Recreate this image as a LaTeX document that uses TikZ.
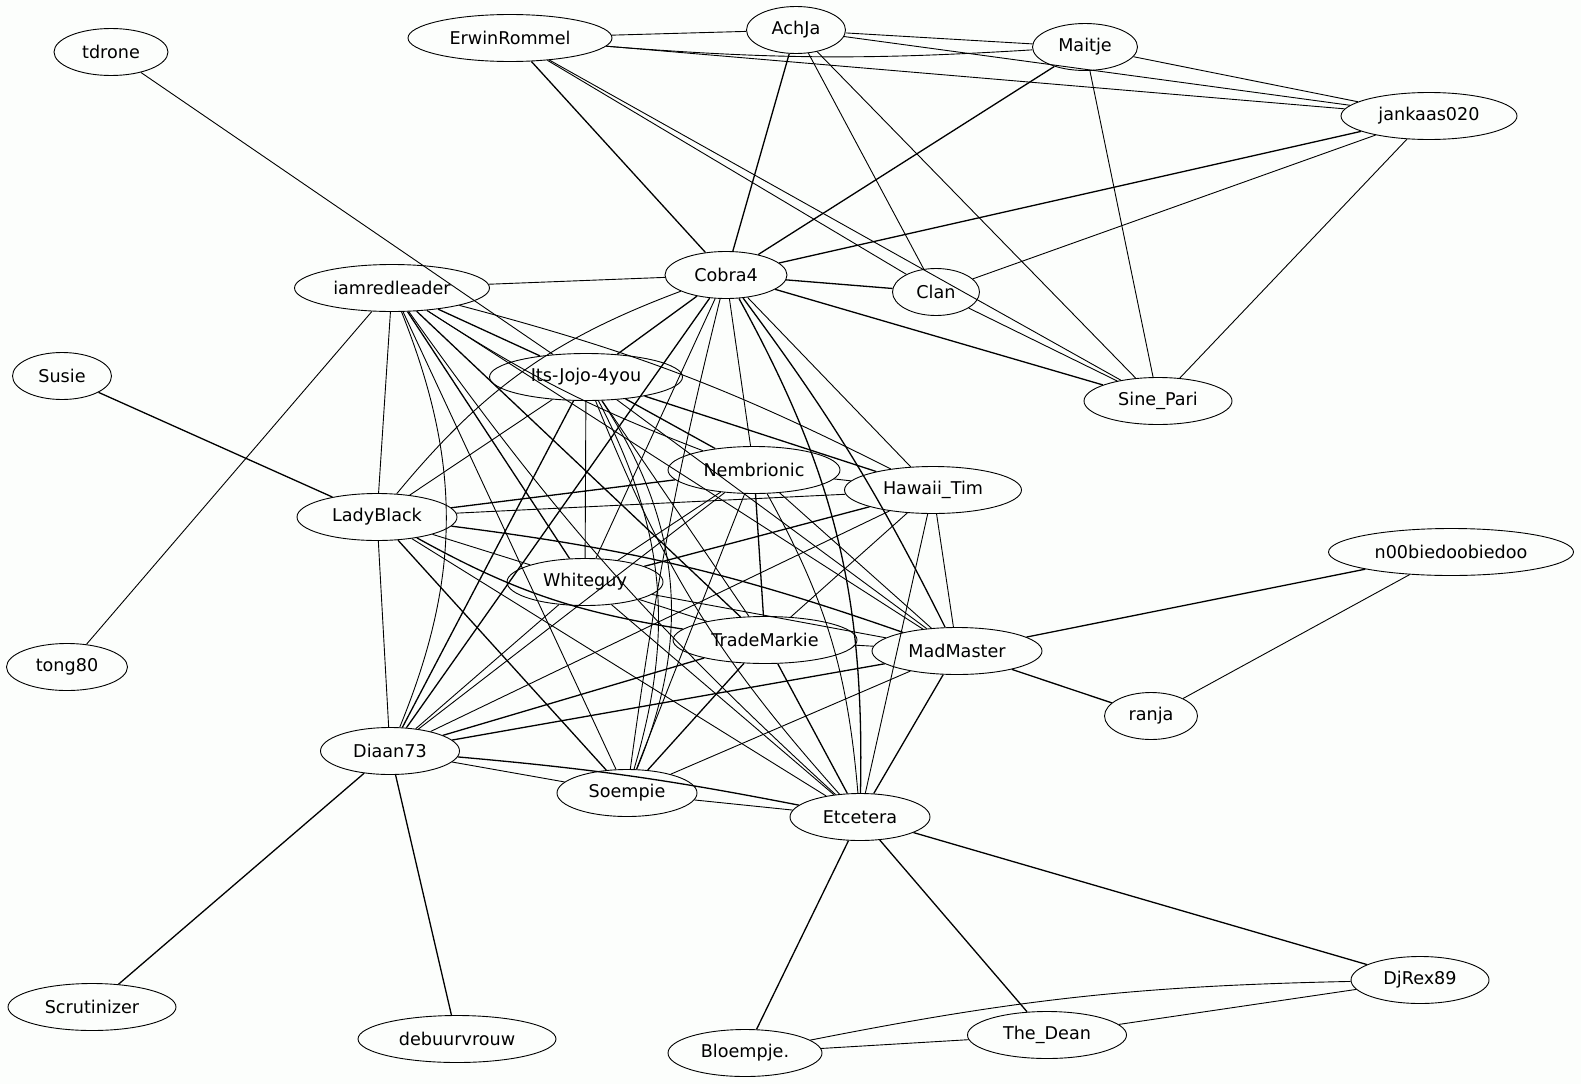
\documentclass[tikz,border=0pt]{standalone}
\usepackage{fontspec}
\setmainfont{DejaVu Sans}
\usetikzlibrary{shapes.geometric}
\definecolor{bgc}{RGB}{252,254,252}
\begin{document}
\begin{tikzpicture}[x=1pt,y=-1pt,
  nd/.style={draw,ellipse,line width=0.9pt,inner sep=0pt,minimum height=47pt,font=\fontsize{17.6}{21}\selectfont},
  ed/.style={line width=0.9pt},
  edd/.style={line width=1.3pt}]
\fill[bgc] (0,0) rectangle (1581,1084);
\useasboundingbox (0,0) rectangle (1581,1084);
% nodes
\node[nd,minimum width=114pt] (tdrone) at (111,52) {tdrone};
\node[nd,minimum width=204pt] (erwin) at (510,38) {ErwinRommel};
\node[nd,minimum width=99pt] (achja) at (796,30) {AchJa};
\node[nd,minimum width=105pt] (maitje) at (1085,47) {Maitje};
\node[nd,minimum width=176pt] (jankaas) at (1429,116) {jankaas020};
\node[nd,minimum width=122pt] (cobra) at (726,275) {Cobra4};
\node[nd,minimum width=87pt] (clan) at (936,292) {Clan};
\node[nd,minimum width=195pt] (iamred) at (392,288) {iamredleader};
\node[nd,minimum width=99pt] (susie) at (62,376) {Susie};
\node[nd,minimum width=193pt] (jojo) at (586,377) {Its-Jojo-4you};
\node[nd,minimum width=148pt] (sine) at (1158,401) {Sine\_Pari};
\node[nd,minimum width=172pt] (nemb) at (754,470) {Nembrionic};
\node[nd,minimum width=177pt] (hawaii) at (933,490) {Hawaii\_Tim};
\node[nd,minimum width=160pt] (lady) at (377,517) {LadyBlack};
\node[nd,minimum width=245pt] (noob) at (1451,552) {n00biedoobiedoo};
\node[nd,minimum width=156pt] (white) at (585,582) {Whiteguy};
\node[nd,minimum width=184pt] (trade) at (765,640) {TradeMarkie};
\node[nd,minimum width=170pt] (mad) at (957,651) {MadMaster};
\node[nd,minimum width=121pt] (tong) at (67,667) {tong80};
\node[nd,minimum width=93pt] (ranja) at (1151,716) {ranja};
\node[nd,minimum width=139pt] (diaan) at (390,751) {Diaan73};
\node[nd,minimum width=140pt] (soem) at (627,793) {Soempie};
\node[nd,minimum width=140pt] (etc) at (860,817) {Etcetera};
\node[nd,minimum width=168pt] (scrut) at (92,1007) {Scrutinizer};
\node[nd,minimum width=198pt] (debuur) at (457,1039) {debuurvrouw};
\node[nd,minimum width=154pt] (bloem) at (745,1053) {Bloempje.};
\node[nd,minimum width=159pt] (dean) at (1047,1035) {The\_Dean};
\node[nd,minimum width=138pt] (djrex) at (1420,980) {DjRex89};
% top cluster
\draw[ed] (erwin) -- (achja);
\draw[ed] (erwin) to[bend right=4] (maitje);
\draw[ed] (erwin) -- (jankaas);
\draw[edd] (erwin) -- (cobra);
\draw[ed] (erwin) -- (clan);
\draw[ed] (erwin) -- (sine);
\draw[ed] (achja) -- (maitje);
\draw[ed] (achja) -- (jankaas);
\draw[edd] (achja) -- (cobra);
\draw[ed] (achja) -- (clan);
\draw[ed] (achja) -- (sine);
\draw[ed] (maitje) -- (jankaas);
\draw[edd] (maitje) -- (cobra);
\draw[ed] (maitje) -- (sine);
\draw[edd] (jankaas) -- (cobra);
\draw[ed] (jankaas) -- (clan);
\draw[ed] (jankaas) -- (sine);
\draw[edd] (cobra) -- (clan);
\draw[edd] (cobra) -- (sine);
\draw[ed] (clan) -- (sine);
% periphery
\draw[ed] (tdrone) -- (jojo);
\draw[ed] (iamred) -- (tong);
\draw[edd] (susie) -- (lady);
\draw[edd] (mad) -- (noob);
\draw[edd] (mad) -- (ranja);
\draw[ed] (noob) -- (ranja);
\draw[edd] (diaan) -- (scrut);
\draw[edd] (diaan) -- (debuur);
\draw[edd] (etc) -- (bloem);
\draw[edd] (etc) -- (dean);
\draw[edd] (etc) -- (djrex);
\draw[ed] (djrex) to[bend right=5] (bloem);
\draw[ed] (djrex) -- (dean);
\draw[ed] (bloem) -- (dean);
% iamredleader
\draw[ed] (iamred) -- (cobra);
\draw[ed] (iamred) -- (lady);
\draw[edd] (iamred) -- (jojo);
\draw[ed] (iamred) to[bend left=6] (hawaii);
\draw[ed] (iamred) to[bend right=6] (nemb);
\draw[edd] (iamred) -- (white);
\draw[edd] (iamred) -- (trade);
\draw[ed] (iamred) -- (mad);
\draw[ed] (iamred) -- (soem);
\draw[ed] (iamred) to[bend left=22] (diaan);
\draw[ed] (iamred) to[bend right=6] (etc);
% Its-Jojo-4you
\draw[edd] (jojo) -- (cobra);
\draw[ed] (jojo) -- (lady);
\draw[edd] (jojo) -- (nemb);
\draw[edd] (jojo) -- (hawaii);
\draw[ed] (jojo) -- (white);
\draw[ed] (jojo) -- (trade);
\draw[ed] (jojo) -- (mad);
\draw[edd] (jojo) -- (diaan);
\draw[ed] (jojo) to[bend left=28] (soem);
\draw[ed] (jojo) to[bend left=22] (soem);
\draw[ed] (jojo) to[bend right=10] (etc);
% Cobra4
\draw[ed] (cobra) to[bend right=15] (lady);
\draw[ed] (cobra) -- (nemb);
\draw[ed] (cobra) -- (hawaii);
\draw[ed] (cobra) -- (white);
\draw[edd] (cobra) -- (diaan);
\draw[edd] (cobra) to[bend left=5] (mad);
\draw[edd] (cobra) to[bend left=15] (etc);
\draw[ed] (cobra) to[bend right=3] (soem);
% Nembrionic
\draw[edd] (nemb) -- (lady);
\draw[ed] (nemb) -- (hawaii);
\draw[ed] (nemb) -- (white);
\draw[edd] (nemb) -- (trade);
\draw[ed] (nemb) -- (mad);
\draw[ed] (nemb) -- (diaan);
\draw[ed] (nemb) -- (soem);
\draw[ed] (nemb) to[bend left=12] (etc);
% Hawaii_Tim
\draw[ed] (hawaii) -- (lady);
\draw[edd] (hawaii) -- (white);
\draw[ed] (hawaii) -- (trade);
\draw[ed] (hawaii) -- (mad);
\draw[ed] (hawaii) -- (diaan);
\draw[ed] (hawaii) -- (etc);
% LadyBlack
\draw[ed] (lady) -- (diaan);
\draw[ed] (lady) -- (white);
\draw[edd] (lady) to[bend right=10] (trade);
\draw[edd] (lady) to[bend left=6] (mad);
\draw[edd] (lady) -- (soem);
\draw[ed] (lady) -- (etc);
% Whiteguy
\draw[ed] (white) -- (trade);
\draw[ed] (white) -- (mad);
\draw[ed] (white) -- (diaan);
\draw[ed] (white) -- (etc);
% TradeMarkie
\draw[ed] (trade) -- (mad);
\draw[edd] (trade) -- (diaan);
\draw[edd] (trade) -- (soem);
\draw[edd] (trade) -- (etc);
% MadMaster
\draw[edd] (mad) -- (diaan);
\draw[ed] (mad) -- (soem);
\draw[edd] (mad) -- (etc);
% Diaan73 / Soempie
\draw[ed] (diaan) -- (soem);
\draw[edd] (diaan) to[bend left=3] (etc);
\draw[ed] (soem) -- (etc);
\end{tikzpicture}
\end{document}
